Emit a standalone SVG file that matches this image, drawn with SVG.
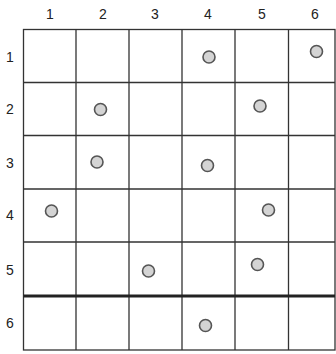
<svg xmlns="http://www.w3.org/2000/svg" width="336" height="354" viewBox="0 0 336 354">
<style>
.g{stroke:#333;stroke-width:1.3;fill:none}
.t{stroke:#222;stroke-width:2.8}
.l{font-family:"Liberation Sans",Arial,sans-serif;font-size:14px;fill:#222;text-anchor:middle}
.d{fill:#d4d4d4;stroke:#555;stroke-width:1.6}
</style>
<rect width="336" height="354" fill="#fff"/>
<g id="labels">
<text class="l" x="50" y="19">1</text>
<text class="l" x="103" y="19">2</text>
<text class="l" x="155" y="19">3</text>
<text class="l" x="208" y="19">4</text>
<text class="l" x="262" y="19">5</text>
<text class="l" x="315" y="19">6</text>
<text class="l" x="10" y="62">1</text>
<text class="l" x="10" y="114">2</text>
<text class="l" x="10" y="168">3</text>
<text class="l" x="10" y="220">4</text>
<text class="l" x="10" y="275">5</text>
<text class="l" x="10" y="328">6</text>
</g>
<g id="grid">
<rect class="g" x="23.5" y="29.5" width="311.5" height="320.5"/>
<path class="g" d="M76 29.5V350M129 29.5V350M182 29.5V350M235 29.5V350M288.5 29.5V350M23.5 82.5H335M23.5 135.5H335M23.5 189H335M23.5 242H335"/>
<path class="t" d="M23.5 296H335"/>
</g>
<g id="dots">
<circle class="d" cx="209" cy="57" r="6"/>
<circle class="d" cx="316.5" cy="51.5" r="6"/>
<circle class="d" cx="100.5" cy="109.5" r="6"/>
<circle class="d" cx="260" cy="106" r="6"/>
<circle class="d" cx="97" cy="162" r="6"/>
<circle class="d" cx="207.5" cy="165.5" r="6"/>
<circle class="d" cx="51.5" cy="211" r="6"/>
<circle class="d" cx="268.5" cy="210" r="6"/>
<circle class="d" cx="148.5" cy="271" r="6"/>
<circle class="d" cx="257.5" cy="264.5" r="6"/>
<circle class="d" cx="205.5" cy="325.5" r="6"/>
</g>
</svg>
